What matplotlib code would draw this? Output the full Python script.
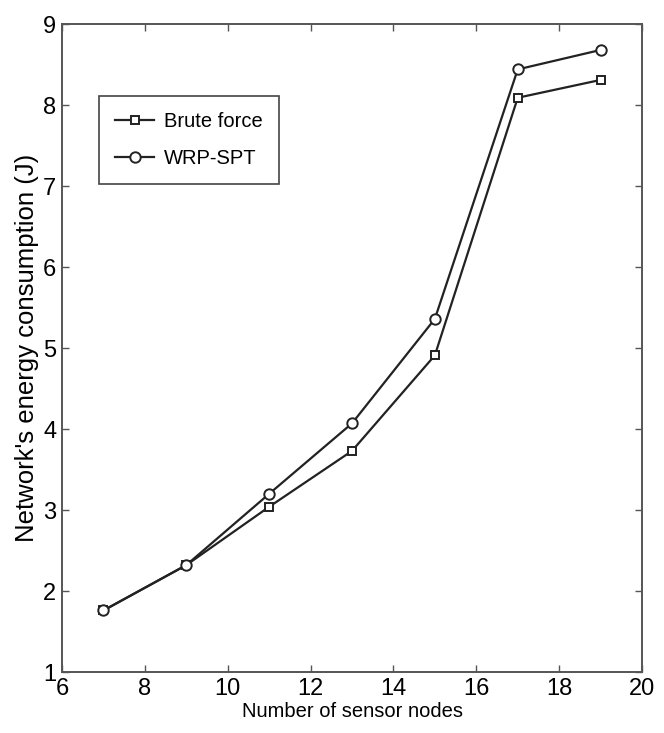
import matplotlib
matplotlib.use("Agg")
import matplotlib.pyplot as plt

# data
nodes = [7, 9, 11, 13, 15, 17, 19]
brute_force = [1.76, 2.32, 3.04, 3.73, 4.91, 8.09, 8.31]
wrp_spt = [1.76, 2.32, 3.20, 4.07, 5.36, 8.44, 8.68]
xticks = [6, 8, 10, 12, 14, 16, 18, 20]
yticks = [1, 2, 3, 4, 5, 6, 7, 8, 9]

plt.rcParams["font.family"] = "Liberation Sans"

fig = plt.figure(figsize=(6.64, 7.33), dpi=100)
ax = fig.add_axes([0.0934, 0.0832, 0.8735, 0.8840])

line_kw = dict(color="#222222", lw=1.6, markerfacecolor="white",
               markeredgecolor="#222222", markeredgewidth=1.4)
ax.plot(nodes, brute_force, marker="s", ms=6, label="Brute force", **line_kw)
ax.plot(nodes, wrp_spt, marker="o", ms=7.5, label="WRP-SPT", **line_kw)

ax.set_xlim(6, 20)
ax.set_ylim(1, 9)
ax.set_xticks(xticks)
ax.set_yticks(yticks)
ax.tick_params(direction="in", top=True, right=True, length=5, width=1,
               color="#555555", labelsize=17, pad=4)
for s in ax.spines.values():
    s.set_color("#555555")
    s.set_linewidth(1.4)

ax.set_xlabel("Number of sensor nodes", fontsize=14.5, labelpad=2)
ax.set_ylabel("Network's energy consumption (J)", fontsize=18.5, labelpad=3)

leg = ax.legend(loc="upper left", bbox_to_anchor=(0.047, 0.905), fontsize=14.5,
                fancybox=False, edgecolor="#444444", handlelength=1.9,
                handletextpad=0.5, borderpad=0.8, labelspacing=0.9, framealpha=1)
leg.get_frame().set_linewidth(1.2)

fig.savefig("out.png", dpi=100)
